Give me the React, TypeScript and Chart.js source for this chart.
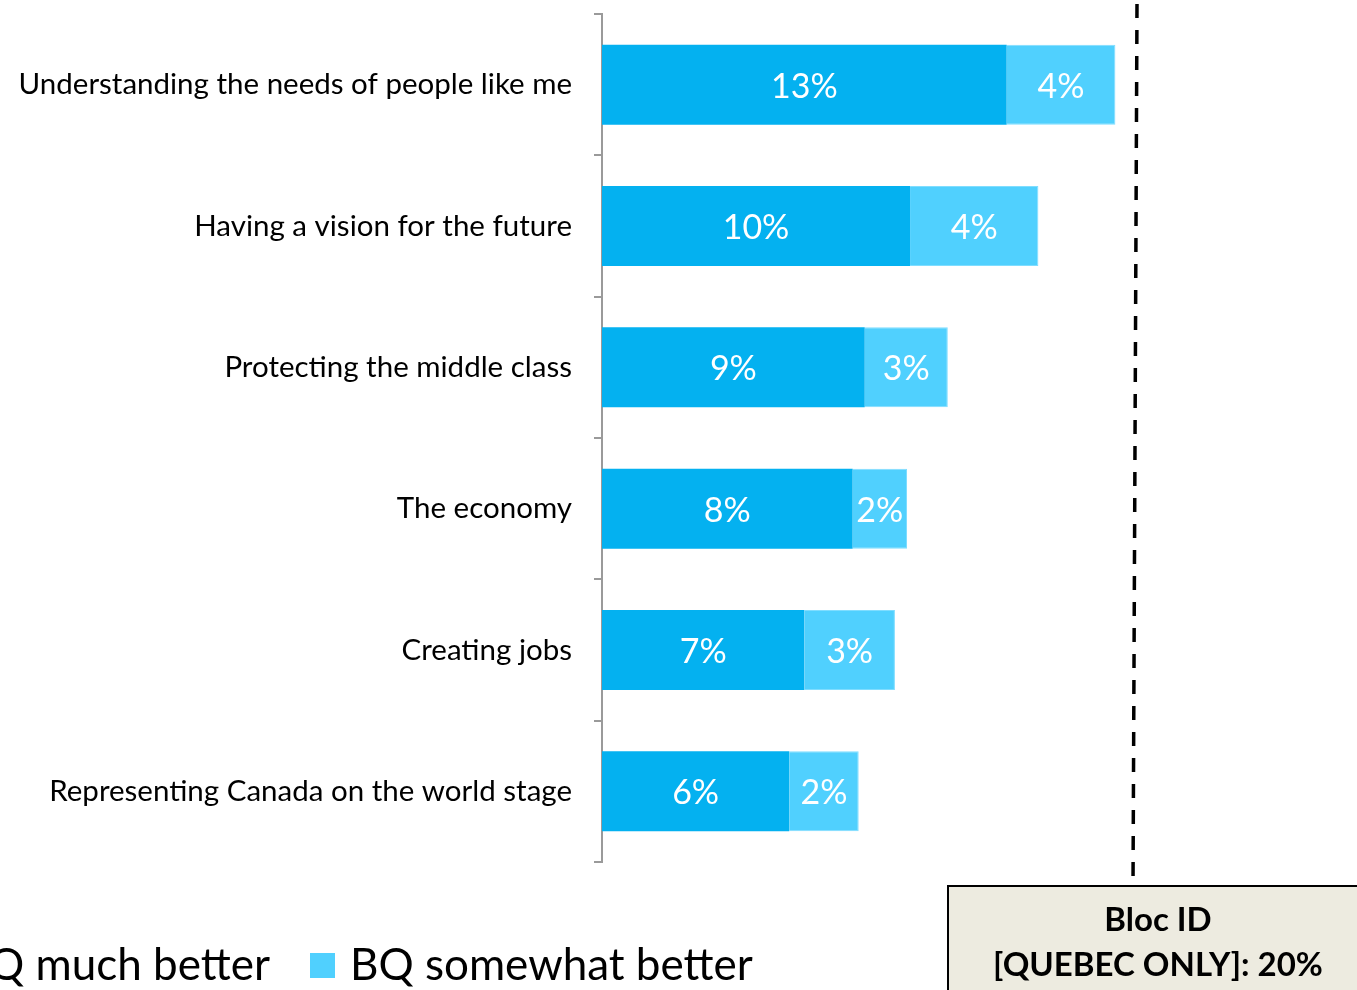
import React, { useEffect, useRef } from "react";
import { Chart, registerables } from "chart.js";

Chart.register(...registerables);

const categories = [
  "Understanding the needs of people like me",
  "Having a vision for the future",
  "Protecting the middle class",
  "The economy",
  "Creating jobs",
  "Representing Canada on the world stage",
];
const muchBetter = [13.4, 10.2, 8.7, 8.3, 6.7, 6.2];
const somewhatBetter = [3.6, 4.25, 2.75, 1.8, 3.0, 2.3];
const seriesNames = ["BQ much better", "BQ somewhat better"];
const boxLines = ["Bloc ID", "[QUEBEC ONLY]: 20%"];

const DARK = "#04B1F0";
const LIGHT = "#50D0FE";
const FONT = "Lato, 'Open Sans', sans-serif";

export default function App() {
  const ref = useRef<HTMLCanvasElement | null>(null);
  useEffect(() => {
    const canvas = ref.current!;
    const labelPlugin = {
      id: "barLabels",
      afterDatasetsDraw(chart: any) {
        const ctx = chart.ctx;
        ctx.save();
        ctx.fillStyle = "#ffffff";
        ctx.font = `34px ${FONT}`;
        ctx.textAlign = "center";
        ctx.textBaseline = "middle";
        chart.data.datasets.forEach((ds: any, di: number) => {
          const meta = chart.getDatasetMeta(di);
          meta.data.forEach((el: any, i: number) => {
            const p = el.getProps(["x", "base", "y"], true);
            const v = ds.data[i] as number;
            ctx.fillText(`${Math.round(v)}%`, (p.x + p.base) / 2, p.y + 2);
          });
        });
        ctx.restore();
      },
    };
    const overlayPlugin = {
      id: "overlay",
      afterDraw(chart: any) {
        const ctx = chart.ctx;
        ctx.save();
        // dashed reference line
        ctx.strokeStyle = "#000";
        ctx.lineWidth = 3.5;
        ctx.setLineDash([14, 12]);
        ctx.beginPath();
        ctx.moveTo(1137, 4);
        ctx.lineTo(1133, 886);
        ctx.stroke();
        ctx.setLineDash([]);
        // callout box
        ctx.fillStyle = "#EDEBE0";
        ctx.fillRect(947, 886, 420, 110);
        ctx.strokeStyle = "#000";
        ctx.lineWidth = 2;
        ctx.strokeRect(948, 886, 420, 110);
        ctx.fillStyle = "#000";
        ctx.font = `bold 33px ${FONT}`;
        ctx.textAlign = "center";
        ctx.textBaseline = "middle";
        ctx.fillText(boxLines[0], 1158, 920);
        ctx.fillText(boxLines[1], 1158, 965);
        // legend
        ctx.font = `44px ${FONT}`;
        ctx.textBaseline = "middle";
        ctx.textAlign = "right";
        ctx.fillStyle = "#000";
        ctx.fillText(seriesNames[0], 270, 966);
        const w0 = ctx.measureText(seriesNames[0]).width;
        ctx.fillStyle = DARK;
        ctx.fillRect(270 - w0 - 40, 953, 25, 25);
        ctx.fillStyle = LIGHT;
        ctx.fillRect(310, 953, 25, 25);
        ctx.fillStyle = "#000";
        ctx.textAlign = "left";
        ctx.fillText(seriesNames[1], 350, 966);
        ctx.restore();
      },
    };
    const chart = new Chart(canvas, {
      type: "bar",
      data: {
        labels: categories,
        datasets: [
          {
            label: seriesNames[0],
            data: muchBetter,
            backgroundColor: DARK,
            categoryPercentage: 1,
            barPercentage: 0.566,
          },
          {
            label: seriesNames[1],
            data: somewhatBetter,
            backgroundColor: LIGHT,
            borderColor: "#7FDDFF",
            borderWidth: { top: 1, bottom: 1, right: 1, left: 0 },
            categoryPercentage: 1,
            barPercentage: 0.566,
          },
        ],
      },
      options: {
        indexAxis: "y",
        animation: false,
        responsive: false,
        maintainAspectRatio: false,
        layout: { padding: { top: 14, bottom: 128, left: 0, right: 0 } },
        plugins: { legend: { display: false }, tooltip: { enabled: false } },
        scales: {
          x: { display: false, stacked: true, min: 0, max: 25 },
          y: {
            stacked: true,
            afterFit: (s: any) => {
              s.width = 602;
              s.paddingTop = 0;
              s.paddingBottom = 0;
            },
            grid: {
              offset: true,
              drawOnChartArea: false,
              drawTicks: true,
              tickLength: 8,
              color: "#9A9A9A",
              lineWidth: 2,
            },
            border: { display: true, color: "#9A9A9A", width: 2 },
            ticks: {
              color: "#000",
              padding: 22,
              font: { family: FONT, size: 29.5 },
            },
          },
        },
      },
      plugins: [labelPlugin, overlayPlugin],
    });
    return () => chart.destroy();
  }, []);
  return (
    <div style={{ position: "fixed", left: 0, top: 0, width: 1357, height: 990, background: "#fff" }}>
      <canvas ref={ref} width={1357} height={990} style={{ width: 1357, height: 990, display: "block" }} />
    </div>
  );
}
